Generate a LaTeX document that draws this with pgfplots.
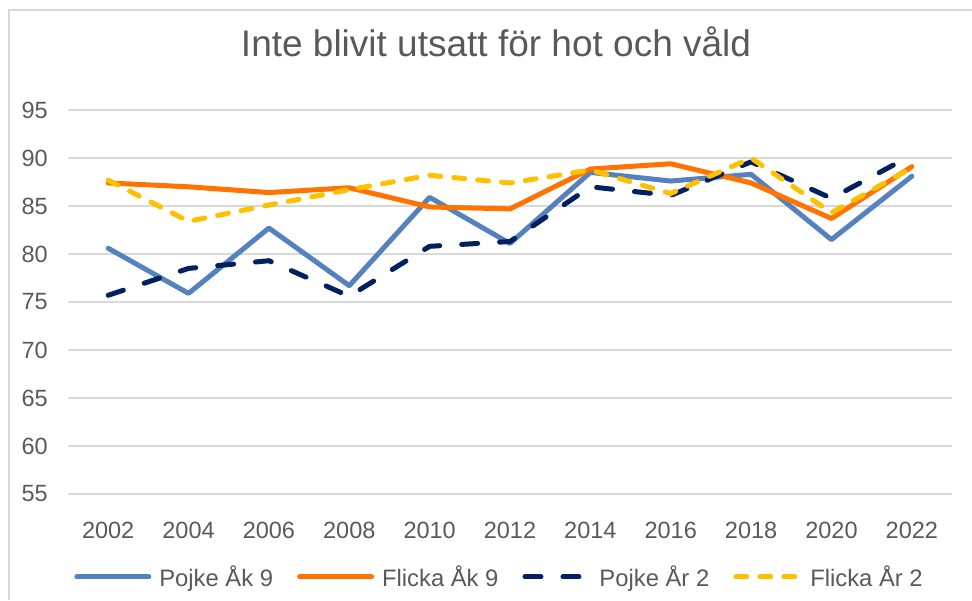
\documentclass[border=0pt]{standalone}
\usepackage{fontspec}
\setmainfont{Liberation Sans}
\usepackage{pgfplots}
\pgfplotsset{compat=1.18}
\definecolor{cblue}{RGB}{84,130,190}
\definecolor{corange}{RGB}{255,115,0}
\definecolor{cnavy}{RGB}{0,32,96}
\definecolor{cyellow}{RGB}{255,192,0}
\definecolor{gridgray}{RGB}{217,217,217}
\definecolor{tgray}{RGB}{89,89,89}
\pgfplotsset{shortleg/.style={legend image code/.code={\draw[##1] (0pt,0pt) -- (64pt,0pt);}}}
\begin{document}
\begin{tikzpicture}
\path[use as bounding box] (0pt,0pt) rectangle (972pt,600pt);
\draw[color=gridgray, line width=1.5pt] (9pt,0pt) -- (9pt,590pt) -- (972pt,590pt);
\node[anchor=base, text=tgray, font=\fontsize{37}{44}\selectfont] at (496pt,543.3pt) {Inte blivit utsatt för hot och våld};
\begin{axis}[
  at={(68pt,106pt)}, anchor=south west, scale only axis,
  width=884pt, height=384pt,
  xmin=-0.5, xmax=10.5, ymin=55, ymax=95,
  xtick={0,...,10},
  xticklabels={2002,2004,2006,2008,2010,2012,2014,2016,2018,2020,2022},
  ytick={55,60,...,95},
  axis line style={draw=none},
  major tick length=0pt,
  ymajorgrids, grid style={gridgray, line width=1.5pt},
  /pgf/number format/assume math mode=true,
  tick label style={font=\fontsize{23.5}{28}\selectfont, text=tgray, inner sep=0pt},
  yticklabel style={anchor=east, xshift=-20pt},
  xticklabel style={anchor=north, yshift=-27.5pt},
  clip=false,
  legend columns=4,
  legend style={draw=none, fill=none, at={(0.487,-0.216)}, anchor=center,
    font=\fontsize{23.8}{28}\selectfont, text=tgray,
    nodes={inner sep=0pt},
    /tikz/every odd column/.append style={column sep=8pt},
    /tikz/every even column/.append style={column sep=24pt}},
  legend image code/.code={\draw[#1] (0pt,0pt) -- (72pt,0pt);},
  every axis plot/.append style={line width=5pt, line cap=round, line join=round, no marks},
]
\addplot[cblue] coordinates {(0,80.6) (1,75.9) (2,82.7) (3,76.7) (4,85.9) (5,81.1) (6,88.5) (7,87.6) (8,88.3) (9,81.5) (10,88.1)};
\addlegendentry{Pojke Åk 9}
\addplot[corange] coordinates {(0,87.4) (1,87.0) (2,86.4) (3,86.9) (4,84.9) (5,84.7) (6,88.85) (7,89.4) (8,87.4) (9,83.7) (10,89.1)};
\addlegendentry{Flicka Åk 9}
\addplot[cnavy, dash pattern=on 16pt off 22pt, shortleg] coordinates {(0,75.7) (1,78.5) (2,79.3) (3,75.6) (4,80.8) (5,81.3) (6,87.0) (7,86.1) (8,89.6) (9,85.8) (10,90.3)};
\addlegendentry{Pojke År 2}
\addplot[cyellow, dash pattern=on 11pt off 13pt, shortleg] coordinates {(0,87.7) (1,83.4) (2,85.1) (3,86.7) (4,88.2) (5,87.4) (6,88.75) (7,86.3) (8,90.0) (9,84.3) (10,89.0)};
\addlegendentry{Flicka År 2}
\end{axis}
\end{tikzpicture}
\end{document}
